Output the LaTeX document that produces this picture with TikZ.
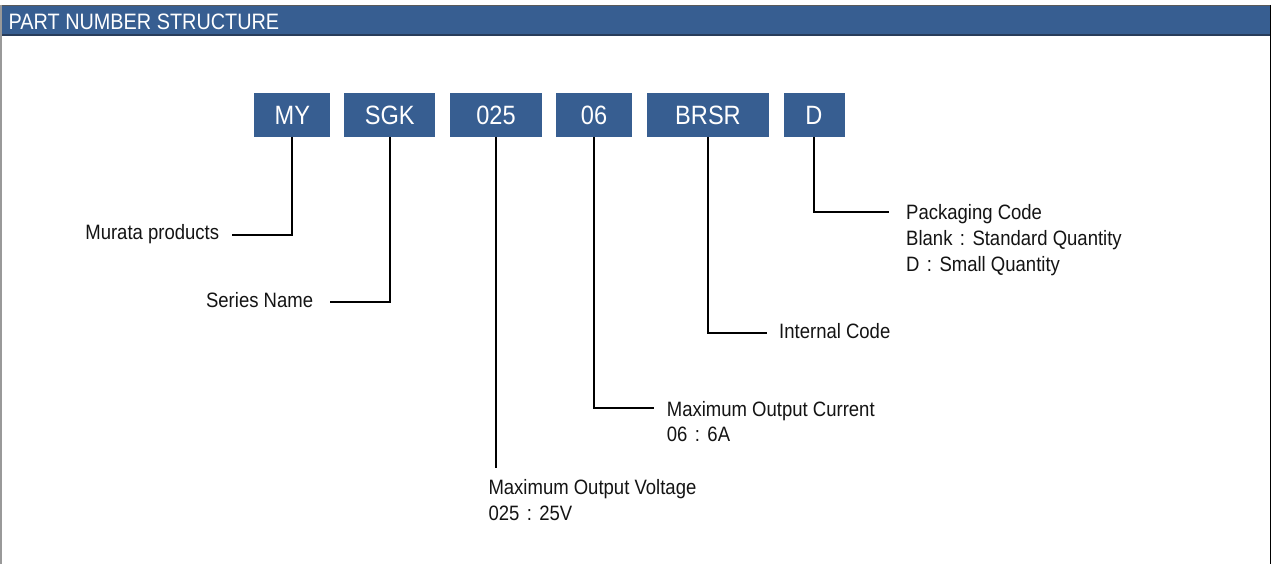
\documentclass[tikz,border=0pt]{standalone}
\usepackage{fontspec}
\setmainfont[FakeStretch=0.89]{Liberation Sans}
\definecolor{boxblue}{RGB}{55,94,145}
\definecolor{hdrline}{RGB}{40,60,90}
\definecolor{txtcol}{RGB}{20,20,20}
\newcommand\fcolon{\makebox[20pt]{:}}
\begin{document}
\begin{tikzpicture}[x=1pt,y=-1pt,
  code/.style={fill=boxblue,text=white,minimum height=43.4pt,inner sep=0pt,
    font=\fontsize{26.5}{30}\selectfont},
  lbl/.style={inner sep=0pt,text=txtcol,font=\fontsize{20.8}{25}\selectfont},
  conn/.style={line width=1.8pt,black}]
\useasboundingbox (0,0) rectangle (1272,564);
% frame
\fill[white] (0,0) rectangle (1272,564);
\fill[boxblue] (2,5.5) rectangle (1270,35);
\draw[gray!70!black,line width=1pt] (0,5.5) -- (1271,5.5);
\draw[hdrline,line width=1.2pt] (2,35) -- (1270,35);
\draw[gray!80,line width=2pt] (1,5) -- (1,564);
\draw[black,line width=1.2pt] (1270.8,5) -- (1270.8,564);
\node[anchor=base west,inner sep=0pt,text=white,font=\fontsize{22.3}{26}\selectfont] (title) at (8.5,29.3) {PART NUMBER STRUCTURE};
% code boxes
\node[code,minimum width=76pt] (my) at (292.3,115) {MY};
\node[code,minimum width=91pt] (sgk) at (389.7,115) {SGK};
\node[code,minimum width=92pt] (v) at (496,115) {025};
\node[code,minimum width=76pt] (c) at (594,115) {06};
\node[code,minimum width=122pt] (brsr) at (708,115) {BRSR};
\node[code,minimum width=61pt] (d) at (814,115) {D};
% labels
\node[lbl,anchor=base east] (mur) at (219.3,240) {Murata products};
\node[lbl,anchor=base east] (ser) at (313.3,307) {Series Name};
\node[lbl,anchor=base west] (vol1) at (488.3,494) {Maximum Output Voltage};
\node[lbl,anchor=base west] (vol2) at (488.3,520) {025\fcolon 25V};
\node[lbl,anchor=base west] (cur1) at (666.7,416) {Maximum Output Current};
\node[lbl,anchor=base west] (cur2) at (666.7,441.7) {06\fcolon 6A};
\node[lbl,anchor=base west] (int) at (779,338) {Internal Code};
\node[lbl,anchor=base west] (pk1) at (906,220) {Packaging Code};
\node[lbl,anchor=base west] (pk2) at (906,246) {Blank\fcolon Standard Quantity};
\node[lbl,anchor=base west] (pk3) at (906,271.5) {D\fcolon Small Quantity};
% connector ends
\coordinate (e1) at (231.7,235);
\coordinate (e2) at (330,302.3);
\coordinate (e3) at (496,468.3);
\coordinate (e4) at (654.3,408);
\coordinate (e5) at (767.3,332.7);
\coordinate (e6) at (888.7,211.7);
% connectors
\draw[conn] (my.south) |- (e1);
\draw[conn] (sgk.south) |- (e2);
\draw[conn] (v.south) -- (e3);
\draw[conn] (c.south) |- (e4);
\draw[conn] (brsr.south) |- (e5);
\draw[conn] (d.south) |- (e6);
\end{tikzpicture}
\end{document}
